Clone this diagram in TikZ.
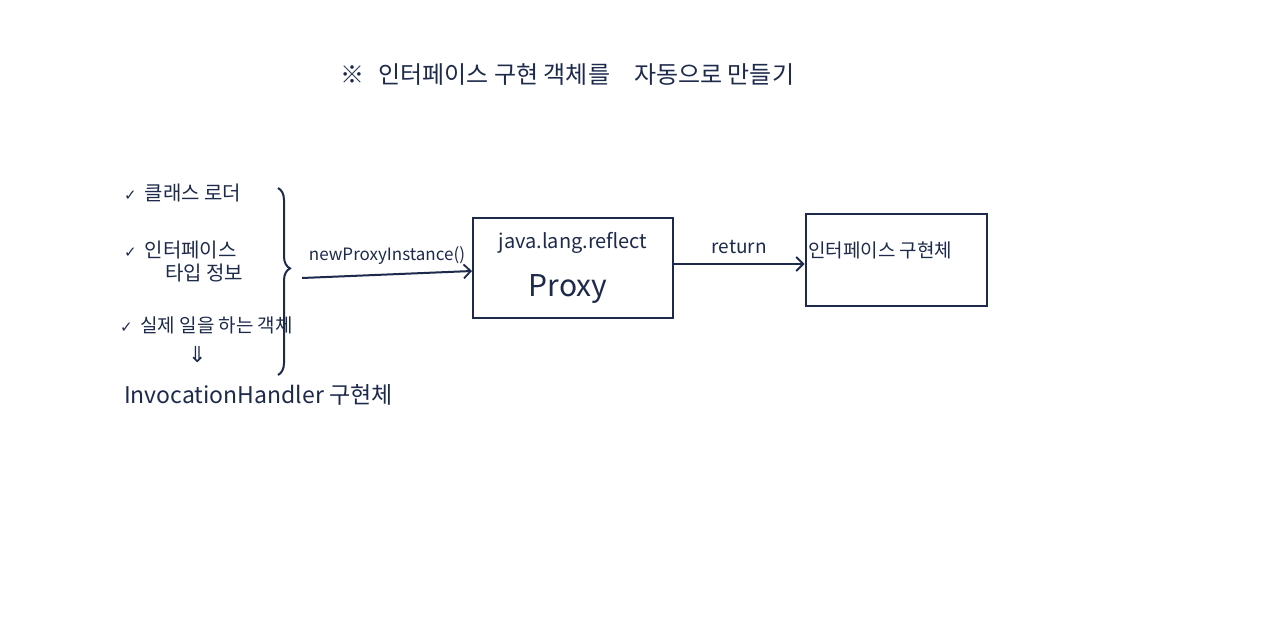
\documentclass[tikz,border=0pt]{standalone}
\usepackage{fontspec}
\setmainfont{Noto Sans CJK KR}
\newfontfamily\symfont{DejaVu Sans}
\usetikzlibrary{arrows.meta,decorations.pathreplacing}
\definecolor{ink}{HTML}{1E2A4C}
\tikzset{
  txt/.style={text=ink, inner sep=0pt, anchor=west},
  boxnode/.style={draw=ink, line width=2pt, inner sep=0pt},
  conn/.style={draw=ink, line width=2pt, -{Straight Barb[length=7pt,width=14pt,line width=1.8pt]}},
}
\newcommand{\fs}[1]{\fontsize{#1}{#1}\selectfont}
\begin{document}
\begin{tikzpicture}[x=1pt,y=-1pt]
\useasboundingbox[fill=white] (0,0) rectangle (1280,635);
% title
\node[txt] (title) at (340,75) {\fs{24}※\hspace{0.6em}인터페이스 구현 객체를\hspace{1em}자동으로 만들기};
% left list
\node[txt] (i1) at (124,193) {\fs{20}{\symfont\fs{15}✓}\hspace{0.4em}클래스 로더};
\node[txt] (i2) at (124,250) {\fs{20}{\symfont\fs{15}✓}\hspace{0.4em}인터페이스};
\node[txt] (i2b) at (165,273) {\fs{20}타입 정보};
\node[txt] (i3) at (120,325) {\fs{19}{\symfont\fs{15}✓}\hspace{0.4em}실제 일을 하는 객체};
\node[txt] (dn) at (188,355) {\symfont\fs{22}⇓};
\node[txt] (ih) at (124,395) {\fs{23}InvocationHandler 구현체};
% brace
\coordinate (bt) at (278,188);
\coordinate (bb) at (278,375);
\draw[ink, line width=2pt, decorate, decoration={brace, amplitude=12pt, aspect=0.43}] (bt) -- (bb);
\coordinate (bs) at (302,278);
% boxes
\node[boxnode, minimum width=200pt, minimum height=100pt] (proxy) at (573,268) {};
\node[txt, anchor=center] (pl1) at (573,243) {\fs{20}java.lang.reflect};
\node[txt, anchor=center] (pl2) at (568,289) {\fs{30}Proxy};
\node[boxnode, minimum width=181pt, minimum height=92pt] (impl) at (896,260) {};
\node[txt] (il) at (808,250) {\fs{19}인터페이스 구현체};
% arrows
\draw[conn] (bs) -- (proxy.west |- 0,271) node[midway, above=6pt, text=ink, font=\fs{17}] (lab1) {newProxyInstance()};
\draw[conn] (proxy.east |- 0,264) -- (impl.west |- 0,264) node[midway, above=6pt, text=ink, font=\fs{19}] (lab2) {return};
\end{tikzpicture}
\end{document}
